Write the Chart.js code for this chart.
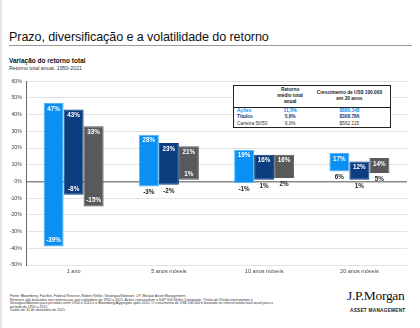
<!DOCTYPE html>
<html lang="pt">
<head>
<meta charset="UTF-8">
<title>Prazo, diversificação e a volatilidade do retorno</title>
<script src="https://cdn.jsdelivr.net/npm/chart.js@4.4.0/dist/chart.umd.min.js"></script>
<style>
    * { margin: 0; padding: 0; box-sizing: border-box; }
    body {
        width: 420px; height: 328px; overflow: hidden; position: relative;
        background: #fff; font-family: 'Liberation Sans', Arial, sans-serif; color: #111;
        border-left: 2px solid #e4e4e4;
    }
    .title { position: absolute; left: 7px; top: 30px; font-size: 12.6px; letter-spacing: -0.1px; white-space: nowrap; }
    .rule { position: absolute; left: 7px; top: 45px; width: 403px; border-top: 1px solid #999; }
    .sub1 { position: absolute; left: 7px; top: 57px; font-size: 6.5px; font-weight: bold; }
    .sub2 { position: absolute; left: 7px; top: 65px; font-size: 5.3px; color: #333; }
    #wrap { position: absolute; left: 0; top: 74px; width: 412px; height: 210px; }
    .tbl {
        position: absolute; left: 231px; top: 85px; width: 158px; height: 43px;
        border: 1px solid #222; background: #fff; font-size: 4.8px;
    }
    .tbl table { border-collapse: collapse; width: 100%; table-layout: fixed; }
    .tbl th { font-weight: bold; text-align: center; line-height: 6.3px; height: 21px; vertical-align: middle; border-bottom: 1px solid #222; color: #222; white-space: nowrap; }
    .tbl td { line-height: 6.8px; padding-left: 3px; white-space: nowrap; }
    .tbl td.c { text-align: center; padding-left: 0; }
    .r1 { color: #0a8ff0; font-weight: bold; }
    .r2 { color: #0b3c7c; font-weight: bold; }
    .r3 { color: #333; }
    .foot { position: absolute; left: 8px; top: 295px; font-size: 3.5px; line-height: 3.6px; color: #333; white-space: nowrap; }
    .logo { position: absolute; left: 345px; top: 288px; font-family: 'Liberation Serif', 'DejaVu Serif', serif; font-size: 13.5px; color: #111; letter-spacing: -0.3px; }
    .am { position: absolute; left: 348px; top: 307.5px; font-size: 4.8px; letter-spacing: 0.2px; color: #222; font-weight: bold; }
</style>
</head>
<body>
<div class="title">Prazo, diversificação e a volatilidade do retorno</div>
<div class="rule"></div>
<div class="sub1">Variação do retorno total</div>
<div class="sub2">Retorno total anual, 1950-2021</div>
<div id="wrap"><canvas id="chart"></canvas></div>
<div class="tbl">
    <table>
        <tr><th style="width:24%"></th><th style="width:24%">Retorno<br>médio total<br>anual</th><th>Crescimento de US$ 100.000<br>em 20 anos</th></tr>
        <tr class="r1"><td>Ações</td><td class="c">11,5%</td><td class="c">$880.148</td></tr>
        <tr class="r2"><td>Títulos</td><td class="c">5,8%</td><td class="c">$308.786</td></tr>
        <tr class="r3"><td>Carteira 50/50</td><td class="c">9,0%</td><td class="c">$562.115</td></tr>
    </table>
</div>
<div class="foot">
    Fonte: Bloomberg, FactSet, Federal Reserve, Robert Shiller, Strategas/Ibbotson, J.P. Morgan Asset Management.<br>
    Retornos são baseados nos retornos por ano-calendário de 1950 a 2021. Ações representam o S&amp;P 500 Shiller Composite; Títulos de Dívida representam o<br>
    Strategas/Ibbotson para períodos entre 1950 e 2010 e o Bloomberg Aggregate após 2010. O crescimento de US$ 100.000 é baseado no retorno médio total anual para o<br>
    período de 1950 a 2021.<br>
    Dados de 31 de dezembro de 2021.
</div>
<div class="logo">J.P.Morgan</div>
<div class="am">ASSET MANAGEMENT</div>

<script>
    const categories = ['1 ano', '5 anos móveis', '10 anos móveis', '20 anos móveis'];
    const acoesLow = [-39, -3, -1, 6];
    const acoesHigh = [47, 28, 19, 17];
    const titulosLow = [-8, -2, 1, 1];
    const titulosHigh = [43, 23, 16, 12];
    const carteiraLow = [-15, 1, 2, 5];
    const carteiraHigh = [33, 21, 16, 14];
    const yTicks = [60, 50, 40, 30, 20, 10, 0, -10, -20, -30, -40, -50];

    const series = [
        { label: 'Ações', low: acoesLow, high: acoesHigh, color: '#0a90f2', border: '#55b3f7' },
        { label: 'Títulos', low: titulosLow, high: titulosHigh, color: '#0b3d7f', border: '#0b3d7f' },
        { label: 'Carteira 50/50', low: carteiraLow, high: carteiraHigh, color: '#58595b', border: '#58595b' }
    ];

    // labels at both ends of each floating bar
    const rangeLabels = {
        id: 'rangeLabels',
        afterDatasetsDraw(chart) {
            const ctx = chart.ctx;
            const y = chart.scales.y;
            ctx.save();
            ctx.font = 'bold 6.3px "Liberation Sans", Arial, sans-serif';
            ctx.textAlign = 'center';
            ctx.textBaseline = 'middle';
            series.forEach((s, di) => {
                chart.getDatasetMeta(di).data.forEach((bar, i) => {
                    const lo = s.low[i], hi = s.high[i];
                    const top = y.getPixelForValue(hi);
                    const bot = y.getPixelForValue(lo);
                    ctx.fillStyle = '#fff';
                    ctx.fillText(hi + '%', bar.x, top + 6);
                    const inside = lo < -5 || (lo > 0 && hi - lo >= 20);
                    if (inside) {
                        ctx.fillStyle = '#fff';
                        ctx.fillText(lo + '%', bar.x, bot - 6);
                    } else {
                        ctx.fillStyle = '#222';
                        ctx.fillText(lo + '%', bar.x, bot + 6);
                    }
                });
            });
            ctx.restore();
        }
    };

    new Chart(document.getElementById('chart'), {
        type: 'bar',
        data: {
            labels: categories,
            datasets: series.map(s => ({
                label: s.label,
                data: s.low.map((v, i) => [v, s.high[i]]),
                backgroundColor: s.color,
                borderColor: s.border,
                borderWidth: 1,
                borderSkipped: false,
                categoryPercentage: 0.63,
                barPercentage: 1.0
            }))
        },
        options: {
            responsive: true,
            maintainAspectRatio: false,
            animation: false,
            layout: { padding: { top: 3, right: 7, left: 0, bottom: 0 } },
            plugins: { legend: { display: false }, tooltip: { enabled: false } },
            scales: {
                x: {
                    grid: { display: false, drawTicks: false },
                    border: { display: false },
                    ticks: { color: '#444', font: { size: 5.5 }, padding: 3 },
                    afterFit(scale) { scale.height = 19; }
                },
                y: {
                    min: -50, max: 60,
                    afterBuildTicks(scale) { scale.ticks = yTicks.map(v => ({ value: v })); },
                    ticks: { color: '#444', font: { size: 5.3 }, padding: 4, callback: v => v + '%' },
                    grid: {
                        color: ctx => ctx.tick && ctx.tick.value === 0 ? '#8a8a8a' : '#e3e3e3',
                        lineWidth: ctx => ctx.tick && ctx.tick.value === 0 ? 1.5 : 1,
                        drawTicks: false
                    },
                    border: { display: true, color: '#666', width: 1 },
                    afterFit(scale) { scale.width = 24; }
                }
            }
        },
        plugins: [rangeLabels]
    });
</script>
</body>
</html>
